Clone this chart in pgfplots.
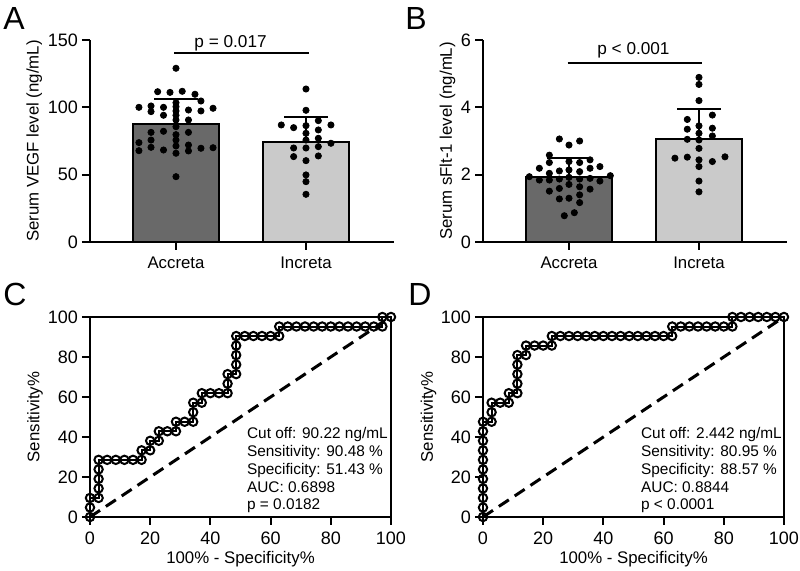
\documentclass[border=0pt]{standalone}
\usepackage{fontspec}
\setmainfont{Liberation Sans}
\usepackage{pgfplots}
\pgfplotsset{compat=1.18}
\definecolor{darkbar}{RGB}{105,105,105}
\definecolor{lightbar}{RGB}{202,202,202}
\newcommand{\lblfont}{\fontsize{8.4}{10}\selectfont}
\newcommand{\numfont}{\fontsize{9}{10}\selectfont}
\newcommand{\annfont}{\fontsize{7.7}{8.85}\selectfont}
\newcommand{\panelfont}{\fontsize{16}{16}\selectfont}
\pgfplotsset{
  base/.style={
    scale only axis,
    anchor=south west,
    /pgf/number format/assume math mode=true,
    tick label style={font=\numfont},
    yticklabel style={xshift=1.5pt},
    label style={font=\lblfont},
    axis line style={line width=1pt, black},
    major tick style={line width=1pt, black},
    major tick length=4pt,
    tick align=outside,
    clip=false,
  },
  barpanel/.style={
    base,
    width=152pt, height=101pt,
    axis x line*=bottom, axis y line*=left,
    xtick={0,1}, xticklabels={Accreta,Increta},
    xticklabel style={font=\lblfont},
    xmin=-0.6615, xmax=1.677,
    ymin=0,
  },
  rocpanel/.style={
    base,
    width=150.5pt, height=100pt,
    xmin=0, xmax=100, ymin=0, ymax=100,
    xtick={0,20,...,100}, ytick={0,20,...,100},
    tick pos=left,
    xlabel={100\% - Specificity\%}, ylabel={Sensitivity\%},
    xlabel style={at={(axis description cs:0.5,-0.21)}, anchor=center},
  },
  errstyle/.style={error bars/.cd, y dir=plus, y explicit,
    error bar style={line width=1pt, black},
    error mark options={rotate=90, black, line width=1pt, mark size=10.9pt}},
  dots/.style={only marks, mark=*, mark size=1.55pt, black},
  roc/.style={black, line width=1pt, mark=o, mark size=2.1pt, mark options={solid, line width=1pt}},
  diag/.style={black, line width=1.5pt, dash pattern=on 6pt off 3.5pt},
}
\begin{document}
\begin{tikzpicture}
\path[use as bounding box] (0,0) rectangle (400pt,285.5pt);

% ---------------- Panel A ----------------
\begin{axis}[barpanel, at={(45pt,164.5pt)},
  ymax=150, ytick={0,50,100,150},
  ylabel={Serum VEGF level (ng/mL)},
  ylabel style={at={(axis description cs:-0.1836,0.5)}, anchor=center}]
\addplot[ybar, bar width=0.66, bar shift=0pt, fill=darkbar, draw=black, line width=1pt, errstyle]
  coordinates {(0,87.6) +- (0,18.4)};
\addplot[ybar, bar width=0.66, bar shift=0pt, fill=lightbar, draw=black, line width=1pt, errstyle]
  coordinates {(1,74.3) +- (0,18.3)};
% Accreta
\addplot[dots] coordinates {
 (-0.285,100.0) (-0.285,73.8) (-0.285,67.8)
 (-0.192,101.0) (-0.192,96.8) (-0.192,81.4) (-0.192,75.7) (-0.192,70.3)
 (-0.096,100.0) (-0.096,94.1) (-0.096,82.2) (-0.096,68.3)
 (-0.141,111.6) (-0.046,111.1) (0.048,111.9) (0.146,109.7)
 (0,129.0) (0,103.4) (0,100.5) (0,97.3) (0,94.1) (0,90.6) (0,85.6) (0,79.7) (0,75.7) (0,71.3) (0,65.9) (0,48.5)
 (0.096,98.0) (0.096,90.6) (0.096,81.4) (0.096,72.0) (0.096,67.6)
 (0.192,104.7) (0.192,97.3) (0.192,69.6)
 (0.285,99.3) (0.285,70.0)
};
% Increta
\addplot[dots] coordinates {
 (1,113.6) (1,97.8) (0.81,86.9) (0.905,84.9) (1,86.4) (1,80.7) (1,75.7)
 (1.095,90.1) (1.095,83.2) (1.095,77.0) (1.095,70.8) (1.095,63.9)
 (1.192,86.9) (1.192,73.3) (0.905,69.8) (0.905,63.4)
 (1,69.8) (1,60.4) (1,49.8) (1,44.8) (1,35.4)
};
\addplot[black, line width=1pt] coordinates {(-0.015,140) (1.02,140)};
\node[font=\fontsize{8.6}{10}\selectfont, inner sep=0pt] at (axis cs:0.42,147.2) {p = 0.017};
\end{axis}

% ---------------- Panel B ----------------
\begin{axis}[barpanel, at={(241.5pt,164.5pt)},
  ymax=6, ytick={0,2,4,6},
  ylabel={Serum sFlt-1 level (ng/mL)},
  ylabel style={at={(axis description cs:-0.1168,0.5)}, anchor=center}]
\addplot[ybar, bar width=0.66, bar shift=0pt, fill=darkbar, draw=black, line width=1pt, errstyle]
  coordinates {(0,1.94) +- (0,0.55)};
\addplot[ybar, bar width=0.66, bar shift=0pt, fill=lightbar, draw=black, line width=1pt, errstyle]
  coordinates {(1,3.05) +- (0,0.89)};
% Accreta
\addplot[dots] coordinates {
 (-0.305,1.94)
 (-0.228,2.19) (-0.228,1.84)
 (-0.151,2.58) (-0.151,2.36) (-0.151,2.04) (-0.151,1.84) (-0.151,1.51)
 (-0.074,3.06) (-0.074,2.11) (-0.074,1.87) (-0.074,1.59) (-0.074,1.28)
 (-0.036,0.78)
 (0,2.88) (0,2.39) (0,2.14) (0,1.92) (0,1.71) (0,1.30)
 (0.041,0.87)
 (0.082,3.00) (0.082,2.36) (0.082,2.09) (0.082,1.87) (0.082,1.64) (0.082,1.40) (0.082,1.17)
 (0.162,2.44) (0.162,2.19) (0.162,1.89) (0.162,1.57)
 (0.238,2.24) (0.238,1.81)
 (0.318,1.97)
};
% Increta
\addplot[dots] coordinates {
 (1,4.89) (1,4.68) (1,4.20)
 (0.91,3.64) (0.91,3.35) (0.91,3.05) (0.815,2.49) (0.91,2.52)
 (1,3.45) (1,3.23) (1,3.03) (1,2.78) (1,2.44) (1,2.24) (1,1.81) (1,1.49)
 (1.103,3.77) (1.103,3.38) (1.103,3.15) (1.103,2.39)
 (1.2,2.53)
};
\addplot[black, line width=1pt] coordinates {(-0.01,5.31) (1.023,5.31)};
\node[font=\fontsize{8.6}{10}\selectfont, inner sep=0pt] at (axis cs:0.496,5.68) {p < 0.001};
\end{axis}

% ---------------- Panel C ----------------
\begin{axis}[rocpanel, at={(45pt,27pt)},
  ylabel style={at={(axis description cs:-0.183,0.5)}, anchor=center}]
\addplot[diag] coordinates {(0,0) (100,100)};
\addplot[roc] coordinates {
 (0,0) (0,4.76) (0,9.52) (2.857,9.52) (2.857,14.29) (2.857,19.05) (2.857,23.81) (2.857,28.57)
 (5.714,28.57) (8.571,28.57) (11.43,28.57) (14.29,28.57) (17.14,28.57) (17.14,33.33)
 (20,33.33) (20,38.1) (22.86,38.1) (22.86,42.86) (25.71,42.86) (28.57,42.86) (28.57,47.62)
 (31.43,47.62) (34.29,47.62) (34.29,52.38) (34.29,57.14) (37.14,57.14) (37.14,61.9)
 (40,61.9) (42.86,61.9) (45.71,61.9) (45.71,66.67) (45.71,71.43) (48.57,71.43)
 (48.57,76.19) (48.57,80.95) (48.57,85.71) (48.57,90.48) (51.43,90.48) (54.29,90.48)
 (57.14,90.48) (60,90.48) (62.86,90.48) (62.86,95.24) (65.71,95.24) (68.57,95.24)
 (71.43,95.24) (74.29,95.24) (77.14,95.24) (80,95.24) (82.86,95.24) (85.71,95.24)
 (88.57,95.24) (91.43,95.24) (94.29,95.24) (97.14,95.24) (97.14,100) (100,100)
};
\node[font=\annfont, align=left, anchor=south west, inner sep=0pt] at (axis cs:52.06,1.8)
 {Cut off: 90.22 ng/mL\\Sensitivity: 90.48 \%\\Specificity: 51.43 \%\\AUC: 0.6898\\p = 0.0182};
\end{axis}

% ---------------- Panel D ----------------
\begin{axis}[rocpanel, at={(241.5pt,27pt)},
  ylabel style={at={(axis description cs:-0.181,0.5)}, anchor=center}]
\addplot[diag] coordinates {(0,0) (100,100)};
\addplot[roc] coordinates {
 (0,0) (0,4.76) (0,9.52) (0,14.29) (0,19.05) (0,23.81) (0,28.57) (0,33.33) (0,38.1) (0,42.86) (0,47.62)
 (2.857,47.62) (2.857,52.38) (2.857,57.14) (5.714,57.14) (8.571,57.14) (8.571,61.9)
 (11.43,61.9) (11.43,66.67) (11.43,71.43) (11.43,76.19) (11.43,80.95) (14.29,80.95) (14.29,85.71)
 (17.14,85.71) (20,85.71) (22.86,85.71) (22.86,90.48) (25.71,90.48) (28.57,90.48) (31.43,90.48)
 (34.29,90.48) (37.14,90.48) (40,90.48) (42.86,90.48) (45.71,90.48) (48.57,90.48) (51.43,90.48)
 (54.29,90.48) (57.14,90.48) (60,90.48) (62.86,90.48) (62.86,95.24) (65.71,95.24) (68.57,95.24)
 (71.43,95.24) (74.29,95.24) (77.14,95.24) (80,95.24) (82.86,95.24) (82.86,100) (85.71,100)
 (88.57,100) (91.43,100) (94.29,100) (97.14,100) (100,100)
};
\node[font=\annfont, align=left, anchor=south west, inner sep=0pt] at (axis cs:52.4,1.8)
 {Cut off: 2.442 ng/mL\\Sensitivity: 80.95 \%\\Specificity: 88.57 \%\\AUC: 0.8844\\p < 0.0001};
\end{axis}

% panel letters
\node[anchor=north west, inner sep=0pt, font=\panelfont] at (1.5pt,282pt) {A};
\node[anchor=north west, inner sep=0pt, font=\panelfont] at (202.5pt,282pt) {B};
\node[anchor=north west, inner sep=0pt, font=\panelfont] at (1.5pt,144pt) {C};
\node[anchor=north west, inner sep=0pt, font=\panelfont] at (204pt,144pt) {D};
\end{tikzpicture}
\end{document}
